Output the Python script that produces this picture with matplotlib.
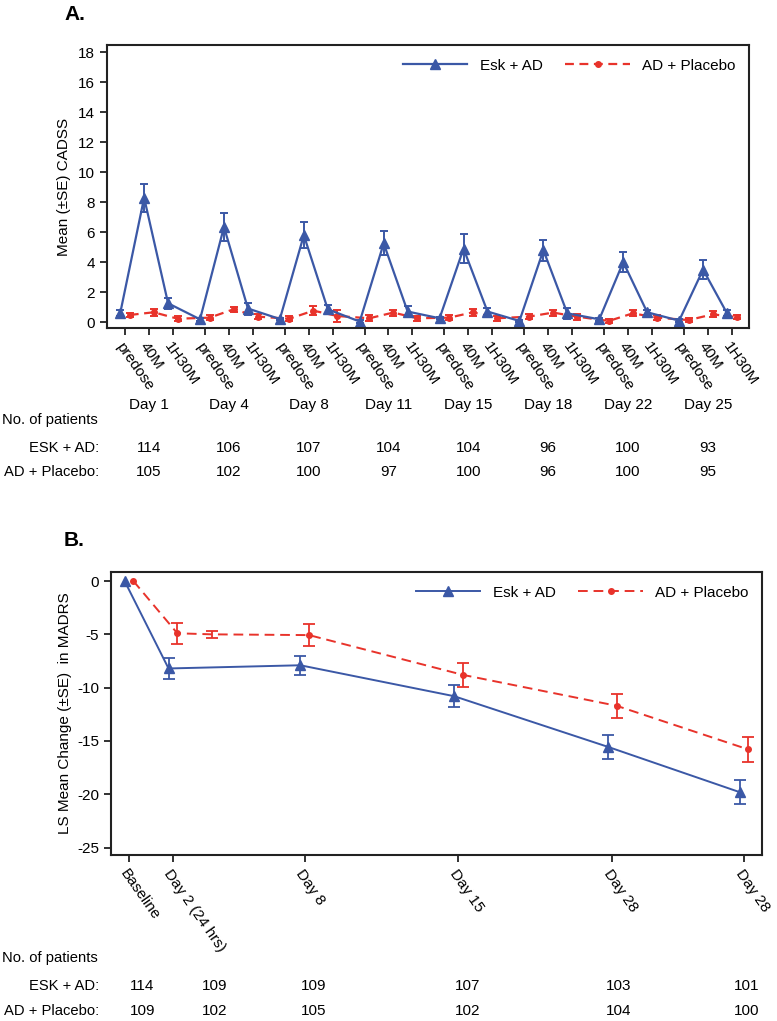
import matplotlib.pyplot as plt
from matplotlib.transforms import blended_transform_factory

plt.rcParams['font.family'] = ['Liberation Sans', 'DejaVu Sans']
plt.rcParams['axes.unicode_minus'] = False

# ---- Panel A data: CADSS by visit day / timepoint ----
days_a = ['Day 1', 'Day 4', 'Day 8', 'Day 11', 'Day 15', 'Day 18', 'Day 22', 'Day 25']
timepoints = ['predose', '40M', '1H30M']
esk_a = [0.58, 8.3, 1.25, 0.18, 6.35, 0.9, 0.2, 5.8, 0.85, 0.03, 5.25, 0.7,
         0.25, 4.9, 0.7, 0.07, 4.8, 0.58, 0.18, 4.0, 0.65, 0.09, 3.5, 0.58]
esk_a_se = [0.2, 0.95, 0.35, 0.08, 0.95, 0.4, 0.08, 0.85, 0.3, 0.08, 0.8, 0.35,
            0.08, 0.95, 0.25, 0.08, 0.7, 0.35, 0.08, 0.65, 0.15, 0.08, 0.65, 0.2]
plc_a = [0.47, 0.65, 0.22, 0.29, 0.85, 0.36, 0.22, 0.76, 0.4, 0.25, 0.63, 0.25,
         0.29, 0.65, 0.25, 0.36, 0.63, 0.36, 0.07, 0.58, 0.29, 0.13, 0.51, 0.33]
plc_a_se = [0.15, 0.22, 0.15, 0.15, 0.15, 0.15, 0.15, 0.3, 0.37, 0.2, 0.2, 0.15,
            0.15, 0.25, 0.15, 0.15, 0.2, 0.2, 0.15, 0.2, 0.15, 0.15, 0.2, 0.15]
esk_n_a = [114, 106, 107, 104, 104, 96, 100, 93]
plc_n_a = [105, 102, 100, 97, 100, 96, 100, 95]

# ---- Panel B data: LS mean change in MADRS ----
b_days = [0, 2, 8, 15, 22, 28]
b_labels = ['Baseline', 'Day 2 (24 hrs)', 'Day 8', 'Day 15', 'Day 28', 'Day 28']
esk_b = [0, -8.2, -7.9, -10.8, -15.55, -19.8]
esk_b_se = [0, 0.95, 0.88, 1.05, 1.15, 1.15]
plc_b_days = [0, 2, 3.6, 8, 15, 22, 28]
plc_b = [0, -4.9, -5.0, -5.07, -8.8, -11.7, -15.8]
plc_b_se = [0, 1.0, 0.3, 1.0, 1.1, 1.15, 1.2]
esk_n_b = [114, 109, 109, 107, 103, 101]
plc_n_b = [109, 102, 105, 102, 104, 100]
count_x_b = [0.6, 3.9, 8.4, 15.4, 22.3, 28.1]

blue = '#3b58a6'
red = '#e8332b'
W, H = 777, 1021
fs = 11
fs_row = 10.6


def fx(px):
    return px / W


def fy(py):
    return 1 - py / H


def style_axes(ax):
    for s in ax.spines.values():
        s.set_linewidth(1.5)
        s.set_color('#222222')
    ax.tick_params(direction='out', length=5, width=1.3, labelsize=fs, color='#222222')


fig = plt.figure(figsize=(7.77, 10.21), dpi=100)

# ================= Panel A =================
axA = fig.add_axes([fx(107), fy(328), fx(749) - fx(107), fy(45) - fy(328)])
pos_a = [g * 10 / 3 + k for g in range(len(days_a)) for k in range(3)]
xe = [p - 0.2 for p in pos_a]
xp = [p + 0.2 for p in pos_a]

axA.errorbar(xp, plc_a, yerr=plc_a_se, fmt='none', ecolor=red, elinewidth=1.4,
             capsize=3, capthick=1.4)
axA.plot(xp, plc_a, color=red, ls='--', dashes=(4, 2.5), lw=1.6, marker='o', ms=4,
         label='AD + Placebo')
axA.errorbar(xe, esk_a, yerr=esk_a_se, fmt='none', ecolor=blue, elinewidth=1.4,
             capsize=3, capthick=1.4)
axA.plot(xe, esk_a, color=blue, lw=1.6, marker='^', ms=7, label='Esk + AD')

axA.set_xlim(-0.75, 26.05)
axA.set_ylim(-0.4, 18.5)
axA.set_yticks(range(0, 19, 2))
axA.set_xticks(pos_a)
axA.set_xticklabels(timepoints * len(days_a), rotation=-55, ha='left', va='top',
                    rotation_mode='anchor', fontsize=fs)
axA.set_ylabel('Mean (\u00b1SE) CADSS', fontsize=fs, labelpad=5)
style_axes(axA)
h, l = axA.get_legend_handles_labels()
axA.legend(h[::-1], l[::-1], loc='upper right', ncol=2, frameon=False, fontsize=fs,
           handlelength=4.2, columnspacing=1.5, numpoints=1)

trA = blended_transform_factory(axA.transData, fig.transFigure)
for g, d in enumerate(days_a):
    xc = g * 10 / 3 + 1
    fig.text(xc, fy(405), d, transform=trA, ha='center', va='center', fontsize=fs)
    fig.text(xc, fy(448), str(esk_n_a[g]), transform=trA, ha='center', va='center', fontsize=fs)
    fig.text(xc, fy(472), str(plc_n_a[g]), transform=trA, ha='center', va='center', fontsize=fs)
fig.text(fx(2), fy(420), 'No. of patients', ha='left', va='center', fontsize=fs_row)
fig.text(fx(99), fy(448), 'ESK + AD:', ha='right', va='center', fontsize=fs_row)
fig.text(fx(99), fy(472), 'AD + Placebo:', ha='right', va='center', fontsize=fs_row)
fig.text(fx(64), fy(15), 'A.', ha='left', va='center', fontsize=15, fontweight='bold')

# ================= Panel B =================
axB = fig.add_axes([fx(111), fy(855), fx(762) - fx(111), fy(572) - fy(855)])
xbe = [d - 0.2 for d in b_days]
xbp = [d + 0.2 for d in plc_b_days]

axB.errorbar(xbp[1:], plc_b[1:], yerr=plc_b_se[1:], fmt='none', ecolor=red,
             elinewidth=1.3, capsize=4, capthick=1.3)
axB.plot(xbp, plc_b, color=red, ls='--', dashes=(5, 3), lw=1.4, marker='o', ms=4,
         markevery=[0, 1, 3, 4, 5, 6], label='AD + Placebo')
axB.errorbar(xbe[1:], esk_b[1:], yerr=esk_b_se[1:], fmt='none', ecolor=blue,
             elinewidth=1.3, capsize=4, capthick=1.3)
axB.plot(xbe, esk_b, color=blue, lw=1.4, marker='^', ms=6.5, label='Esk + AD')

axB.set_xlim(-0.82, 28.82)
axB.set_ylim(-25.7, 0.85)
axB.set_yticks([0, -5, -10, -15, -20, -25])
axB.set_xticks(b_days)
axB.set_xticklabels(b_labels, rotation=-55, ha='left', va='top',
                    rotation_mode='anchor', fontsize=fs)
axB.set_ylabel('LS Mean Change (\u00b1SE)  in MADRS', fontsize=fs, labelpad=4)
style_axes(axB)
h, l = axB.get_legend_handles_labels()
axB.legend(h[::-1], l[::-1], loc='upper right', ncol=2, frameon=False, fontsize=fs,
           handlelength=4.2, columnspacing=1.5, numpoints=1)

trB = blended_transform_factory(axB.transData, fig.transFigure)
for i in range(len(b_days)):
    fig.text(count_x_b[i], fy(986), str(esk_n_b[i]), transform=trB, ha='center', va='center', fontsize=fs)
    fig.text(count_x_b[i], fy(1011), str(plc_n_b[i]), transform=trB, ha='center', va='center', fontsize=fs)
fig.text(fx(2), fy(958), 'No. of patients', ha='left', va='center', fontsize=fs_row)
fig.text(fx(99), fy(986), 'ESK + AD:', ha='right', va='center', fontsize=fs_row)
fig.text(fx(99), fy(1011), 'AD + Placebo:', ha='right', va='center', fontsize=fs_row)
fig.text(fx(64), fy(540), 'B.', ha='left', va='center', fontsize=15, fontweight='bold')

fig.savefig('out.png', dpi=100)
